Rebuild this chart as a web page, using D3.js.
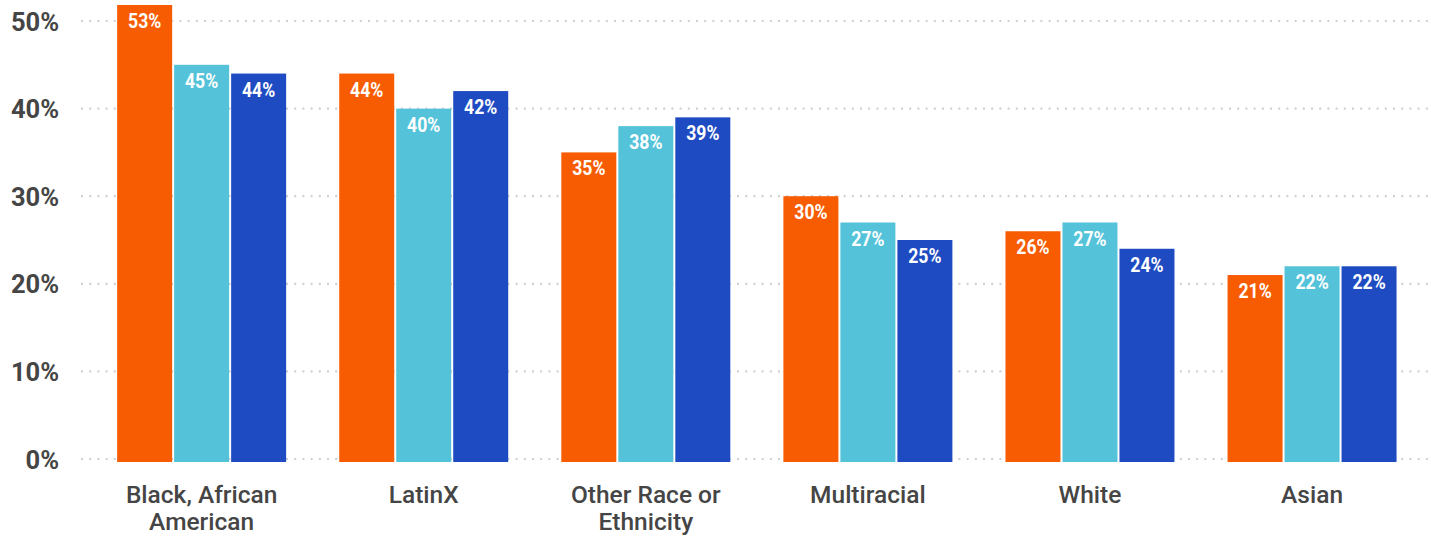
<!DOCTYPE html>
<html>
<head>
<meta charset="utf-8">
<script src="https://cdn.jsdelivr.net/npm/d3@7"></script>
<style>
  html, body { margin: 0; padding: 0; background: #fff; }
  svg { display: block; }
</style>
</head>
<body>
<svg id="chart" width="1431" height="538"></svg>
<script>
// Share of respondents by race / ethnicity, three survey series
const categories = [
  ["Black, African", "American"],
  ["LatinX"],
  ["Other Race or", "Ethnicity"],
  ["Multiracial"],
  ["White"],
  ["Asian"]
];
const seriesNames = ["s1", "s2", "s3"];
const series1 = [53, 44, 35, 30, 26, 21];
const series2 = [45, 40, 38, 27, 27, 22];
const series3 = [44, 42, 39, 25, 24, 22];
const yTicks = [0, 10, 20, 30, 40, 50];
const colors = ["#F75C03", "#54C3D9", "#1F4BC2"];

const values = [series1, series2, series3];
const svg = d3.select("#chart");
const W = 1431, H = 538;

const x = d3.scaleBand()
  .domain(d3.range(categories.length))
  .range([90.6, 1423.1])
  .padding(0);

const groupW = 169;
const xInner = d3.scaleBand()
  .domain(seriesNames)
  .range([0, groupW])
  .paddingInner(0.035);

const y = d3.scaleLinear().domain([0, 50]).range([459, 21]);
const plotTop = 5;

// dotted gridlines
const grid = svg.append("g");
grid.selectAll("line")
  .data(yTicks)
  .join("line")
  .attr("x1", 81).attr("x2", W)
  .attr("y1", d => y(d)).attr("y2", d => y(d))
  .attr("stroke", "#d0d0d0")
  .attr("stroke-width", 2.2)
  .attr("stroke-dasharray", "2,6.2");

// y axis labels
const yAxis = d3.axisLeft(y).tickValues(yTicks).tickFormat(d => d + "%").tickSize(0).tickPadding(0);
const yg = svg.append("g").attr("transform", "translate(59,0)").call(yAxis);
yg.select(".domain").remove();
yg.selectAll("text")
  .attr("font-family", "Roboto, sans-serif")
  .attr("font-weight", 700)
  .attr("font-size", 25.5)
  .attr("fill", "#454545")
  .attr("dy", "0.36em");

// clip the plot area at the top edge
svg.append("defs").append("clipPath").attr("id", "plot-clip")
  .append("rect").attr("x", 0).attr("y", plotTop).attr("width", W).attr("height", H);

const groups = svg.append("g").attr("clip-path", "url(#plot-clip)")
  .selectAll("g.grp")
  .data(categories.map((c, i) => i))
  .join("g")
  .attr("class", "grp")
  .attr("transform", i => `translate(${x(i) + x.bandwidth() / 2 - groupW / 2},0)`);

groups.selectAll("rect")
  .data(i => seriesNames.map((s, k) => ({ s, k, v: values[k][i] })))
  .join("rect")
  .attr("x", d => xInner(d.s))
  .attr("width", xInner.bandwidth())
  .attr("y", d => y(d.v))
  .attr("height", d => y(0) + 3 - y(d.v))
  .attr("fill", d => colors[d.k]);

// value labels inside bar tops
const labels = svg.append("g");
categories.forEach((c, i) => {
  seriesNames.forEach((s, k) => {
    const v = values[k][i];
    const cx = x(i) + x.bandwidth() / 2 - groupW / 2 + xInner(s) + xInner.bandwidth() / 2;
    const top = Math.max(y(v), plotTop);
    labels.append("text")
      .attr("transform", `translate(${cx},${top + 15.5}) scale(0.84,1)`)
      .attr("text-anchor", "middle")
      .attr("dy", "0.36em")
      .attr("font-family", "Roboto, sans-serif")
      .attr("font-weight", 700)
      .attr("font-size", 21)
      .attr("fill", "#fff")
      .text(v + "%");
  });
});

// category labels
const cat = svg.append("g");
categories.forEach((lines, i) => {
  const t = cat.append("text")
    .attr("x", x(i) + x.bandwidth() / 2)
    .attr("y", 494)
    .attr("text-anchor", "middle")
    .attr("font-family", "Roboto, sans-serif")
    .attr("font-weight", 500)
    .attr("font-size", 24.5)
    .attr("fill", "#454545");
  lines.forEach((ln, j) => {
    t.append("tspan")
      .attr("x", x(i) + x.bandwidth() / 2)
      .attr("dy", j === 0 ? "0.36em" : 27)
      .text(ln);
  });
});
</script>
</body>
</html>
